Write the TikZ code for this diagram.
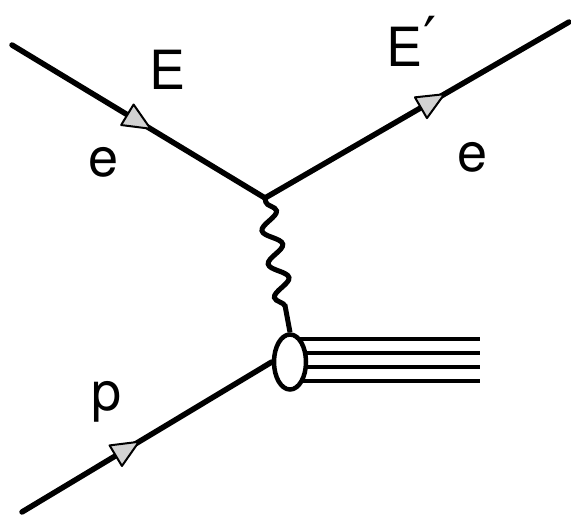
\documentclass[tikz,border=0pt]{standalone}
\usepackage{fontspec}
\setmainfont{TeX Gyre Heros}
\newfontfamily\dejavu{DejaVu Sans}
\usetikzlibrary{decorations.pathmorphing,decorations.markings,shapes.geometric}
\tikzset{
  fermion/.style={line width=5.5pt, line cap=round},
  midarrow/.style={postaction={decorate},
    decoration={markings, mark=at position #1 with {\draw[line width=2pt, fill=gray!35, line join=round] (14pt,0pt) -- (-13pt,12pt) -- (-13pt,-12pt) -- cycle;}}},
  photon/.style={line width=5pt, decorate,
    decoration={snake, segment length=34pt, amplitude=9pt, pre length=4pt, post length=14pt}},
  lbl/.style={font=\fontsize{54}{60}\selectfont, inner sep=0pt},
  jet/.style={line width=4pt},
  blobstyle/.style={draw, ellipse, fill=white, line width=4.5pt, minimum width=32pt, minimum height=55pt, inner sep=0pt},
}
\begin{document}
\begin{tikzpicture}[x=1pt,y=-1pt]
\useasboundingbox (0,0) rectangle (571,516);
\coordinate (ein) at (12,45);
\coordinate (v) at (265,198);
\coordinate (eout) at (569,22);
\coordinate (pin) at (22,512);
\coordinate (bc) at (290,362);
\coordinate (o1) at (480,339);
\coordinate (o2) at (480,353);
\coordinate (o3) at (480,367);
\coordinate (o4) at (480,381);
\draw[fermion, midarrow=0.5] (ein) -- (v);
\draw[fermion, midarrow=0.55] (v) -- (eout);
\foreach \i in {1,...,4} \draw[jet] (o\i -| bc) -- (o\i);
\node[blobstyle] (blob) at (bc) {};
\draw[photon] (v) -- (blob.north);
\draw[fermion, midarrow=0.42] (pin) -- (blob.west);
\node[lbl, anchor=base] (lE) at (168,90) {E};
\node[lbl, anchor=base west] (lEp) at (386,67) {E\hspace{1pt}\raisebox{8pt}{\dejavu\fontsize{58}{58}\selectfont ′}};
\node[lbl, anchor=base] (le1) at (104,177) {e};
\node[lbl, anchor=base] (le2) at (473,172) {e};
\node[lbl, anchor=base] (lp) at (107,410) {p};
\end{tikzpicture}
\end{document}
